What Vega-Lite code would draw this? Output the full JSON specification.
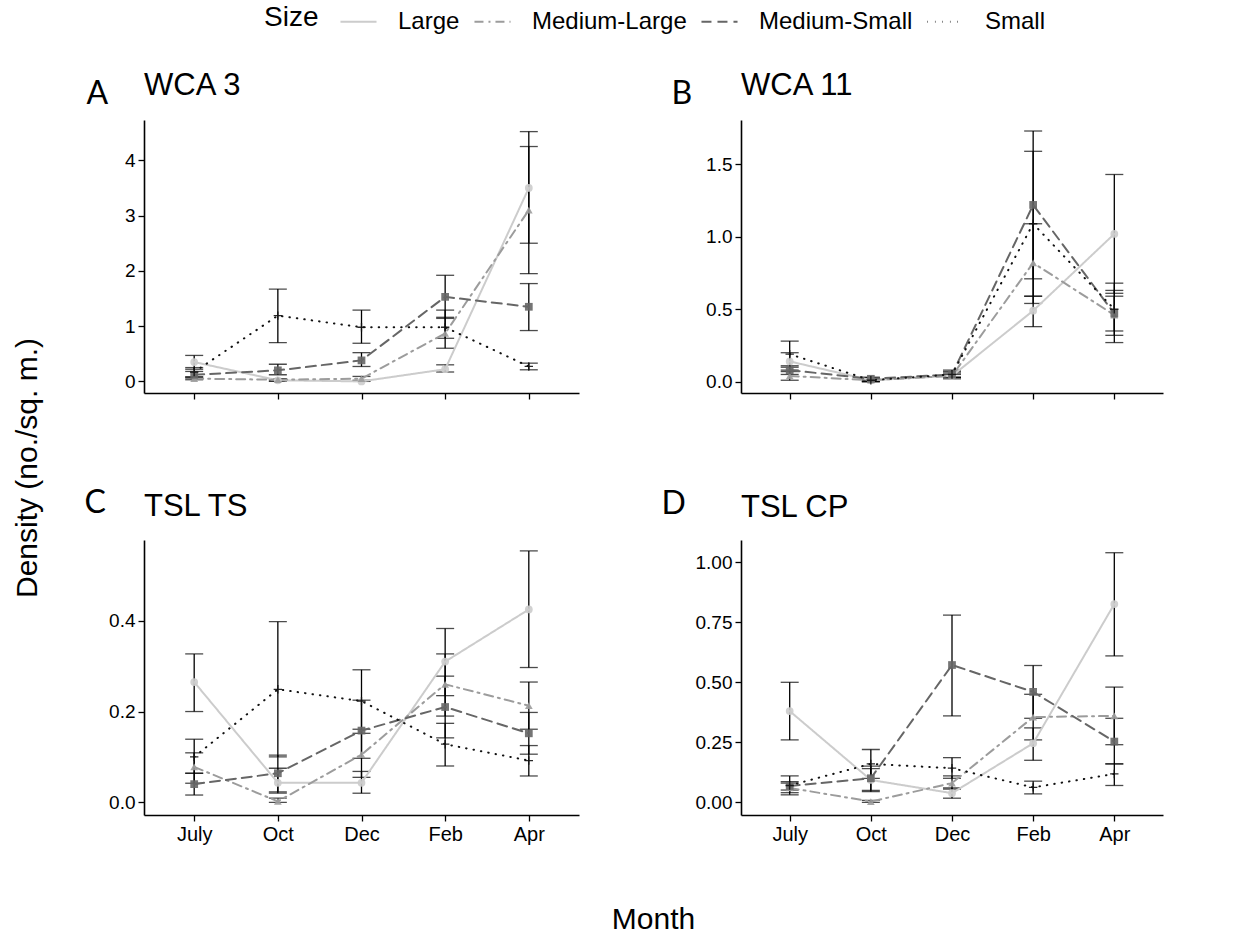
{
  "$schema": "https://vega.github.io/schema/vega-lite/v6.json",
  "padding": {"left": 12, "top": 2, "right": 5, "bottom": 3},
  "background": "white",
  "title": {"text": "Density (no./sq. m.)", "orient": "left", "anchor": "middle", "frame": "bounds", "baseline": "bottom", "offset": 11, "fontSize": 30, "fontWeight": "normal", "font": "Liberation Sans", "color": "black"},
  "datasets": {
    "d": [
      {"panel": "A", "month": "July", "size": "Large", "v": 0.35, "lo": 0.22, "hi": 0.47},
      {"panel": "A", "month": "July", "size": "Medium-Large", "v": 0.05, "lo": 0.03, "hi": 0.08},
      {"panel": "A", "month": "July", "size": "Medium-Small", "v": 0.12, "lo": 0.06, "hi": 0.18},
      {"panel": "A", "month": "July", "size": "Small", "v": 0.17, "lo": 0.08, "hi": 0.25},
      {"panel": "A", "month": "Oct", "size": "Large", "v": 0.02, "lo": 0.0, "hi": 0.04},
      {"panel": "A", "month": "Oct", "size": "Medium-Large", "v": 0.03, "lo": 0.01, "hi": 0.05},
      {"panel": "A", "month": "Oct", "size": "Medium-Small", "v": 0.2, "lo": 0.12, "hi": 0.31},
      {"panel": "A", "month": "Oct", "size": "Small", "v": 1.19, "lo": 0.7, "hi": 1.67},
      {"panel": "A", "month": "Dec", "size": "Large", "v": 0.0, "lo": 0.0, "hi": 0.01},
      {"panel": "A", "month": "Dec", "size": "Medium-Large", "v": 0.05, "lo": 0.02, "hi": 0.09},
      {"panel": "A", "month": "Dec", "size": "Medium-Small", "v": 0.38, "lo": 0.27, "hi": 0.52},
      {"panel": "A", "month": "Dec", "size": "Small", "v": 0.98, "lo": 0.69, "hi": 1.29},
      {"panel": "A", "month": "Feb", "size": "Large", "v": 0.22, "lo": 0.17, "hi": 0.3},
      {"panel": "A", "month": "Feb", "size": "Medium-Large", "v": 0.87, "lo": 0.6, "hi": 1.16},
      {"panel": "A", "month": "Feb", "size": "Medium-Small", "v": 1.53, "lo": 1.14, "hi": 1.92},
      {"panel": "A", "month": "Feb", "size": "Small", "v": 0.98, "lo": 0.78, "hi": 1.29},
      {"panel": "A", "month": "Apr", "size": "Large", "v": 3.5, "lo": 2.5, "hi": 4.52},
      {"panel": "A", "month": "Apr", "size": "Medium-Large", "v": 3.1, "lo": 1.95, "hi": 4.25},
      {"panel": "A", "month": "Apr", "size": "Medium-Small", "v": 1.35, "lo": 0.92, "hi": 1.77},
      {"panel": "A", "month": "Apr", "size": "Small", "v": 0.27, "lo": 0.21, "hi": 0.33},

      {"panel": "B", "month": "July", "size": "Large", "v": 0.14, "lo": 0.08, "hi": 0.2},
      {"panel": "B", "month": "July", "size": "Medium-Large", "v": 0.04, "lo": 0.01, "hi": 0.07},
      {"panel": "B", "month": "July", "size": "Medium-Small", "v": 0.08, "lo": 0.05, "hi": 0.11},
      {"panel": "B", "month": "July", "size": "Small", "v": 0.19, "lo": 0.1, "hi": 0.28},
      {"panel": "B", "month": "Oct", "size": "Large", "v": 0.01, "lo": 0.0, "hi": 0.02},
      {"panel": "B", "month": "Oct", "size": "Medium-Large", "v": 0.01, "lo": 0.0, "hi": 0.02},
      {"panel": "B", "month": "Oct", "size": "Medium-Small", "v": 0.02, "lo": 0.01, "hi": 0.03},
      {"panel": "B", "month": "Oct", "size": "Small", "v": 0.01, "lo": 0.0, "hi": 0.03},
      {"panel": "B", "month": "Dec", "size": "Large", "v": 0.04, "lo": 0.03, "hi": 0.05},
      {"panel": "B", "month": "Dec", "size": "Medium-Large", "v": 0.04, "lo": 0.02, "hi": 0.06},
      {"panel": "B", "month": "Dec", "size": "Medium-Small", "v": 0.05, "lo": 0.03, "hi": 0.07},
      {"panel": "B", "month": "Dec", "size": "Small", "v": 0.05, "lo": 0.03, "hi": 0.08},
      {"panel": "B", "month": "Feb", "size": "Large", "v": 0.49, "lo": 0.38, "hi": 0.59},
      {"panel": "B", "month": "Feb", "size": "Medium-Large", "v": 0.82, "lo": 0.54, "hi": 1.09},
      {"panel": "B", "month": "Feb", "size": "Medium-Small", "v": 1.22, "lo": 0.71, "hi": 1.73},
      {"panel": "B", "month": "Feb", "size": "Small", "v": 1.09, "lo": 0.59, "hi": 1.59},
      {"panel": "B", "month": "Apr", "size": "Large", "v": 1.02, "lo": 0.61, "hi": 1.43},
      {"panel": "B", "month": "Apr", "size": "Medium-Large", "v": 0.46, "lo": 0.35, "hi": 0.59},
      {"panel": "B", "month": "Apr", "size": "Medium-Small", "v": 0.47, "lo": 0.27, "hi": 0.63},
      {"panel": "B", "month": "Apr", "size": "Small", "v": 0.5, "lo": 0.32, "hi": 0.68},

      {"panel": "C", "month": "July", "size": "Large", "v": 0.265, "lo": 0.2, "hi": 0.327},
      {"panel": "C", "month": "July", "size": "Medium-Large", "v": 0.078, "lo": 0.042, "hi": 0.109},
      {"panel": "C", "month": "July", "size": "Medium-Small", "v": 0.04, "lo": 0.016, "hi": 0.064},
      {"panel": "C", "month": "July", "size": "Small", "v": 0.1, "lo": 0.064, "hi": 0.139},
      {"panel": "C", "month": "Oct", "size": "Large", "v": 0.043, "lo": 0.02, "hi": 0.075},
      {"panel": "C", "month": "Oct", "size": "Medium-Large", "v": 0.002, "lo": 0.0, "hi": 0.009},
      {"panel": "C", "month": "Oct", "size": "Medium-Small", "v": 0.064, "lo": 0.023, "hi": 0.104},
      {"panel": "C", "month": "Oct", "size": "Small", "v": 0.249, "lo": 0.1, "hi": 0.398},
      {"panel": "C", "month": "Dec", "size": "Large", "v": 0.043, "lo": 0.02, "hi": 0.068},
      {"panel": "C", "month": "Dec", "size": "Medium-Large", "v": 0.105, "lo": 0.055, "hi": 0.161},
      {"panel": "C", "month": "Dec", "size": "Medium-Small", "v": 0.158, "lo": 0.097, "hi": 0.225},
      {"panel": "C", "month": "Dec", "size": "Small", "v": 0.223, "lo": 0.152, "hi": 0.292},
      {"panel": "C", "month": "Feb", "size": "Large", "v": 0.31, "lo": 0.235, "hi": 0.383},
      {"panel": "C", "month": "Feb", "size": "Medium-Large", "v": 0.26, "lo": 0.19, "hi": 0.327},
      {"panel": "C", "month": "Feb", "size": "Medium-Small", "v": 0.21, "lo": 0.142, "hi": 0.278},
      {"panel": "C", "month": "Feb", "size": "Small", "v": 0.128, "lo": 0.08, "hi": 0.174},
      {"panel": "C", "month": "Apr", "size": "Large", "v": 0.425, "lo": 0.297, "hi": 0.554},
      {"panel": "C", "month": "Apr", "size": "Medium-Large", "v": 0.213, "lo": 0.161, "hi": 0.265},
      {"panel": "C", "month": "Apr", "size": "Medium-Small", "v": 0.152, "lo": 0.106, "hi": 0.198},
      {"panel": "C", "month": "Apr", "size": "Small", "v": 0.092, "lo": 0.058, "hi": 0.125},

      {"panel": "D", "month": "July", "size": "Large", "v": 0.38, "lo": 0.26, "hi": 0.5},
      {"panel": "D", "month": "July", "size": "Medium-Large", "v": 0.06, "lo": 0.04, "hi": 0.08},
      {"panel": "D", "month": "July", "size": "Medium-Small", "v": 0.068, "lo": 0.051, "hi": 0.086},
      {"panel": "D", "month": "July", "size": "Small", "v": 0.07, "lo": 0.031, "hi": 0.11},
      {"panel": "D", "month": "Oct", "size": "Large", "v": 0.093, "lo": 0.05, "hi": 0.14},
      {"panel": "D", "month": "Oct", "size": "Medium-Large", "v": 0.003, "lo": 0.0, "hi": 0.008},
      {"panel": "D", "month": "Oct", "size": "Medium-Small", "v": 0.1, "lo": 0.044, "hi": 0.151},
      {"panel": "D", "month": "Oct", "size": "Small", "v": 0.16, "lo": 0.1, "hi": 0.22},
      {"panel": "D", "month": "Dec", "size": "Large", "v": 0.038, "lo": 0.017, "hi": 0.06},
      {"panel": "D", "month": "Dec", "size": "Medium-Large", "v": 0.08, "lo": 0.055, "hi": 0.11},
      {"panel": "D", "month": "Dec", "size": "Medium-Small", "v": 0.572, "lo": 0.36, "hi": 0.78},
      {"panel": "D", "month": "Dec", "size": "Small", "v": 0.142, "lo": 0.1, "hi": 0.186},
      {"panel": "D", "month": "Feb", "size": "Large", "v": 0.246, "lo": 0.175, "hi": 0.31},
      {"panel": "D", "month": "Feb", "size": "Medium-Large", "v": 0.355, "lo": 0.26, "hi": 0.45},
      {"panel": "D", "month": "Feb", "size": "Medium-Small", "v": 0.46, "lo": 0.35, "hi": 0.57},
      {"panel": "D", "month": "Feb", "size": "Small", "v": 0.062, "lo": 0.035, "hi": 0.088},
      {"panel": "D", "month": "Apr", "size": "Large", "v": 0.826, "lo": 0.61, "hi": 1.04},
      {"panel": "D", "month": "Apr", "size": "Medium-Large", "v": 0.36, "lo": 0.24, "hi": 0.48},
      {"panel": "D", "month": "Apr", "size": "Medium-Small", "v": 0.253, "lo": 0.16, "hi": 0.35},
      {"panel": "D", "month": "Apr", "size": "Small", "v": 0.118, "lo": 0.07, "hi": 0.16}
    ]
  },
  "columns": 2,
  "bounds": "flush",
  "spacing": {"row": 147, "column": 162},
  "resolve": {"scale": {"color": "shared", "strokeDash": "shared", "strokeWidth": "shared"}},
  "concat": [
    {
      "width": 435, "height": 273,
      "title": {"text": "WCA 3", "offset": -25},
      "data": {"name": "d"},
      "transform": [{"filter": "datum.panel === 'A'"}],
      "encoding": {"x": {"field": "month", "type": "ordinal", "sort": ["July", "Oct", "Dec", "Feb", "Apr"], "scale": {"type": "point", "padding": 0.6}, "axis": {"labels": false, "title": null}}},
      "layer": [
        {"mark": {"type": "rule", "color": "black", "strokeWidth": 1.3}, "encoding": {"y": {"field": "lo", "type": "quantitative", "title": "A", "scale": {"domain": [-0.21, 4.73], "nice": false, "zero": false}, "axis": {"values": [0, 1, 2, 3, 4], "format": "d", "titleX": -58, "titleY": -17}}, "y2": {"field": "hi"}}},
        {"mark": {"type": "tick", "color": "black", "thickness": 1.3, "size": 18}, "encoding": {"y": {"field": "lo", "type": "quantitative", "title": "A"}}},
        {"mark": {"type": "tick", "color": "black", "thickness": 1.3, "size": 18}, "encoding": {"y": {"field": "hi", "type": "quantitative", "title": "A"}}},
        {"mark": {"type": "line", "strokeCap": "round"}, "encoding": {"y": {"field": "v", "type": "quantitative", "title": "A"},
          "color": {"field": "size", "type": "nominal", "title": "Size", "scale": {"domain": ["Large", "Medium-Large", "Medium-Small", "Small"], "range": ["#cccccc", "#9c9c9c", "#666666", "#111111"]}, "legend": {"orient": "none", "legendX": 120, "legendY": -118, "direction": "horizontal"}},
          "strokeDash": {"field": "size", "type": "nominal", "title": "Size", "scale": {"domain": ["Large", "Medium-Large", "Medium-Small", "Small"], "range": [[1, 0], [9, 5, 2, 5], [10, 6], [0.5, 7]]}, "legend": {"orient": "none", "legendX": 120, "legendY": -118, "direction": "horizontal"}},
          "strokeWidth": {"field": "size", "type": "nominal", "legend": null, "scale": {"domain": ["Large", "Medium-Large", "Medium-Small", "Small"], "range": [2, 2, 2, 2.6]}}}},
        {"transform": [{"filter": "datum.size === 'Large'"}], "mark": {"type": "point", "shape": "circle", "filled": true, "size": 60, "color": "#cccccc", "opacity": 0.9}, "encoding": {"y": {"field": "v", "type": "quantitative", "title": "A"}}},
        {"transform": [{"filter": "datum.size === 'Medium-Large'"}], "mark": {"type": "point", "shape": "triangle-up", "filled": true, "size": 60, "color": "#9c9c9c", "opacity": 0.9}, "encoding": {"y": {"field": "v", "type": "quantitative", "title": "A"}}},
        {"transform": [{"filter": "datum.size === 'Medium-Small'"}], "mark": {"type": "point", "shape": "square", "filled": true, "size": 60, "color": "#666666", "opacity": 0.9}, "encoding": {"y": {"field": "v", "type": "quantitative", "title": "A"}}},
        {"transform": [{"filter": "datum.size === 'Small'"}], "mark": {"type": "point", "shape": "M-1,0H1M0,-1V1", "filled": false, "size": 70, "strokeWidth": 1.3, "color": "#111111", "opacity": 0.9}, "encoding": {"y": {"field": "v", "type": "quantitative", "title": "A"}}}
      ]
    },
    {
      "width": 422, "height": 273,
      "title": {"text": "WCA 11", "offset": -25},
      "data": {"name": "d"},
      "transform": [{"filter": "datum.panel === 'B'"}],
      "encoding": {"x": {"field": "month", "type": "ordinal", "sort": ["July", "Oct", "Dec", "Feb", "Apr"], "scale": {"type": "point", "padding": 0.6}, "axis": {"labels": false, "title": null}}},
      "layer": [
        {"mark": {"type": "rule", "color": "black", "strokeWidth": 1.3}, "encoding": {"y": {"field": "lo", "type": "quantitative", "title": "B", "scale": {"domain": [-0.078, 1.806], "nice": false, "zero": false}, "axis": {"values": [0, 0.5, 1, 1.5], "format": ".1f", "titleX": -70, "titleY": -17}}, "y2": {"field": "hi"}}},
        {"mark": {"type": "tick", "color": "black", "thickness": 1.3, "size": 18}, "encoding": {"y": {"field": "lo", "type": "quantitative", "title": "B"}}},
        {"mark": {"type": "tick", "color": "black", "thickness": 1.3, "size": 18}, "encoding": {"y": {"field": "hi", "type": "quantitative", "title": "B"}}},
        {"mark": {"type": "line", "strokeCap": "round"}, "encoding": {"y": {"field": "v", "type": "quantitative", "title": "B"},
          "color": {"field": "size", "type": "nominal", "title": "Size", "scale": {"domain": ["Large", "Medium-Large", "Medium-Small", "Small"], "range": ["#cccccc", "#9c9c9c", "#666666", "#111111"]}, "legend": {"orient": "none", "legendX": 120, "legendY": -118, "direction": "horizontal"}},
          "strokeDash": {"field": "size", "type": "nominal", "title": "Size", "scale": {"domain": ["Large", "Medium-Large", "Medium-Small", "Small"], "range": [[1, 0], [9, 5, 2, 5], [10, 6], [0.5, 7]]}, "legend": {"orient": "none", "legendX": 120, "legendY": -118, "direction": "horizontal"}},
          "strokeWidth": {"field": "size", "type": "nominal", "legend": null, "scale": {"domain": ["Large", "Medium-Large", "Medium-Small", "Small"], "range": [2, 2, 2, 2.6]}}}},
        {"transform": [{"filter": "datum.size === 'Large'"}], "mark": {"type": "point", "shape": "circle", "filled": true, "size": 60, "color": "#cccccc", "opacity": 0.9}, "encoding": {"y": {"field": "v", "type": "quantitative", "title": "B"}}},
        {"transform": [{"filter": "datum.size === 'Medium-Large'"}], "mark": {"type": "point", "shape": "triangle-up", "filled": true, "size": 60, "color": "#9c9c9c", "opacity": 0.9}, "encoding": {"y": {"field": "v", "type": "quantitative", "title": "B"}}},
        {"transform": [{"filter": "datum.size === 'Medium-Small'"}], "mark": {"type": "point", "shape": "square", "filled": true, "size": 60, "color": "#666666", "opacity": 0.9}, "encoding": {"y": {"field": "v", "type": "quantitative", "title": "B"}}},
        {"transform": [{"filter": "datum.size === 'Small'"}], "mark": {"type": "point", "shape": "M-1,0H1M0,-1V1", "filled": false, "size": 70, "strokeWidth": 1.3, "color": "#111111", "opacity": 0.9}, "encoding": {"y": {"field": "v", "type": "quantitative", "title": "B"}}}
      ]
    },
    {
      "width": 435, "height": 275,
      "title": {"text": "TSL TS", "offset": -37},
      "data": {"name": "d"},
      "transform": [{"filter": "datum.panel === 'C'"}],
      "encoding": {"x": {"field": "month", "type": "ordinal", "sort": ["July", "Oct", "Dec", "Feb", "Apr"], "scale": {"type": "point", "padding": 0.6}, "axis": {"title": "Month", "titleX": 509, "titleY": 113, "titleAlign": "center", "titleBaseline": "alphabetic", "titleFontSize": 30, "titleFontWeight": "normal", "titleFont": "Liberation Sans", "titleColor": "black"}}},
      "layer": [
        {"mark": {"type": "rule", "color": "black", "strokeWidth": 1.3}, "encoding": {"y": {"field": "lo", "type": "quantitative", "title": "C", "scale": {"domain": [-0.028, 0.578], "nice": false, "zero": false}, "axis": {"values": [0, 0.2, 0.4], "format": ".1f", "titleX": -60, "titleY": -28}}, "y2": {"field": "hi"}}},
        {"mark": {"type": "tick", "color": "black", "thickness": 1.3, "size": 18}, "encoding": {"y": {"field": "lo", "type": "quantitative", "title": "C"}}},
        {"mark": {"type": "tick", "color": "black", "thickness": 1.3, "size": 18}, "encoding": {"y": {"field": "hi", "type": "quantitative", "title": "C"}}},
        {"mark": {"type": "line", "strokeCap": "round"}, "encoding": {"y": {"field": "v", "type": "quantitative", "title": "C"},
          "color": {"field": "size", "type": "nominal", "title": "Size", "scale": {"domain": ["Large", "Medium-Large", "Medium-Small", "Small"], "range": ["#cccccc", "#9c9c9c", "#666666", "#111111"]}, "legend": {"orient": "none", "legendX": 120, "legendY": -118, "direction": "horizontal"}},
          "strokeDash": {"field": "size", "type": "nominal", "title": "Size", "scale": {"domain": ["Large", "Medium-Large", "Medium-Small", "Small"], "range": [[1, 0], [9, 5, 2, 5], [10, 6], [0.5, 7]]}, "legend": {"orient": "none", "legendX": 120, "legendY": -118, "direction": "horizontal"}},
          "strokeWidth": {"field": "size", "type": "nominal", "legend": null, "scale": {"domain": ["Large", "Medium-Large", "Medium-Small", "Small"], "range": [2, 2, 2, 2.6]}}}},
        {"transform": [{"filter": "datum.size === 'Large'"}], "mark": {"type": "point", "shape": "circle", "filled": true, "size": 60, "color": "#cccccc", "opacity": 0.9}, "encoding": {"y": {"field": "v", "type": "quantitative", "title": "C"}}},
        {"transform": [{"filter": "datum.size === 'Medium-Large'"}], "mark": {"type": "point", "shape": "triangle-up", "filled": true, "size": 60, "color": "#9c9c9c", "opacity": 0.9}, "encoding": {"y": {"field": "v", "type": "quantitative", "title": "C"}}},
        {"transform": [{"filter": "datum.size === 'Medium-Small'"}], "mark": {"type": "point", "shape": "square", "filled": true, "size": 60, "color": "#666666", "opacity": 0.9}, "encoding": {"y": {"field": "v", "type": "quantitative", "title": "C"}}},
        {"transform": [{"filter": "datum.size === 'Small'"}], "mark": {"type": "point", "shape": "M-1,0H1M0,-1V1", "filled": false, "size": 70, "strokeWidth": 1.3, "color": "#111111", "opacity": 0.9}, "encoding": {"y": {"field": "v", "type": "quantitative", "title": "C"}}}
      ]
    },
    {
      "width": 422, "height": 275,
      "title": {"text": "TSL CP", "offset": -37},
      "data": {"name": "d"},
      "transform": [{"filter": "datum.panel === 'D'"}],
      "encoding": {"x": {"field": "month", "type": "ordinal", "sort": ["July", "Oct", "Dec", "Feb", "Apr"], "scale": {"type": "point", "padding": 0.6}, "axis": {"title": null}}},
      "layer": [
        {"mark": {"type": "rule", "color": "black", "strokeWidth": 1.3}, "encoding": {"y": {"field": "lo", "type": "quantitative", "title": "D", "scale": {"domain": [-0.053, 1.093], "nice": false, "zero": false}, "axis": {"values": [0, 0.25, 0.5, 0.75, 1], "format": ".2f", "titleX": -80, "titleY": -27}}, "y2": {"field": "hi"}}},
        {"mark": {"type": "tick", "color": "black", "thickness": 1.3, "size": 18}, "encoding": {"y": {"field": "lo", "type": "quantitative", "title": "D"}}},
        {"mark": {"type": "tick", "color": "black", "thickness": 1.3, "size": 18}, "encoding": {"y": {"field": "hi", "type": "quantitative", "title": "D"}}},
        {"mark": {"type": "line", "strokeCap": "round"}, "encoding": {"y": {"field": "v", "type": "quantitative", "title": "D"},
          "color": {"field": "size", "type": "nominal", "title": "Size", "scale": {"domain": ["Large", "Medium-Large", "Medium-Small", "Small"], "range": ["#cccccc", "#9c9c9c", "#666666", "#111111"]}, "legend": {"orient": "none", "legendX": 120, "legendY": -118, "direction": "horizontal"}},
          "strokeDash": {"field": "size", "type": "nominal", "title": "Size", "scale": {"domain": ["Large", "Medium-Large", "Medium-Small", "Small"], "range": [[1, 0], [9, 5, 2, 5], [10, 6], [0.5, 7]]}, "legend": {"orient": "none", "legendX": 120, "legendY": -118, "direction": "horizontal"}},
          "strokeWidth": {"field": "size", "type": "nominal", "legend": null, "scale": {"domain": ["Large", "Medium-Large", "Medium-Small", "Small"], "range": [2, 2, 2, 2.6]}}}},
        {"transform": [{"filter": "datum.size === 'Large'"}], "mark": {"type": "point", "shape": "circle", "filled": true, "size": 60, "color": "#cccccc", "opacity": 0.9}, "encoding": {"y": {"field": "v", "type": "quantitative", "title": "D"}}},
        {"transform": [{"filter": "datum.size === 'Medium-Large'"}], "mark": {"type": "point", "shape": "triangle-up", "filled": true, "size": 60, "color": "#9c9c9c", "opacity": 0.9}, "encoding": {"y": {"field": "v", "type": "quantitative", "title": "D"}}},
        {"transform": [{"filter": "datum.size === 'Medium-Small'"}], "mark": {"type": "point", "shape": "square", "filled": true, "size": 60, "color": "#666666", "opacity": 0.9}, "encoding": {"y": {"field": "v", "type": "quantitative", "title": "D"}}},
        {"transform": [{"filter": "datum.size === 'Small'"}], "mark": {"type": "point", "shape": "M-1,0H1M0,-1V1", "filled": false, "size": 70, "strokeWidth": 1.3, "color": "#111111", "opacity": 0.9}, "encoding": {"y": {"field": "v", "type": "quantitative", "title": "D"}}}
      ]
    }
  ],
  "config": {
    "font": "Liberation Sans",
    "view": {"stroke": null},
    "title": {"anchor": "start", "frame": "group", "baseline": "alphabetic", "fontSize": 31, "fontWeight": "normal", "font": "Liberation Sans", "color": "black"},
    "axis": {"domainColor": "black", "domainWidth": 1.6, "tickColor": "black", "tickWidth": 1.3, "tickSize": 6, "labelColor": "black", "labelFontSize": 19, "labelFont": "Liberation Sans", "grid": false, "labelPadding": 3},
    "axisX": {"labelAngle": 0, "labelFontSize": 20},
    "axisY": {"titleAngle": 0, "titleAlign": "left", "titleBaseline": "alphabetic", "titleFontSize": 32, "titleFontWeight": "normal", "titleFont": "Lato", "titleColor": "black"},
    "legend": {"titleOrient": "left", "titleAnchor": "middle", "titleFontSize": 28, "titleFontWeight": "normal", "titleColor": "black", "titleFont": "Liberation Sans", "labelFontSize": 24, "labelColor": "black", "labelFont": "Liberation Sans", "symbolType": "stroke", "symbolSize": 1300, "symbolStrokeWidth": 2, "columnPadding": 10, "labelOffset": 20, "titlePadding": 20, "titleBaseline": "middle"}
  }
}
